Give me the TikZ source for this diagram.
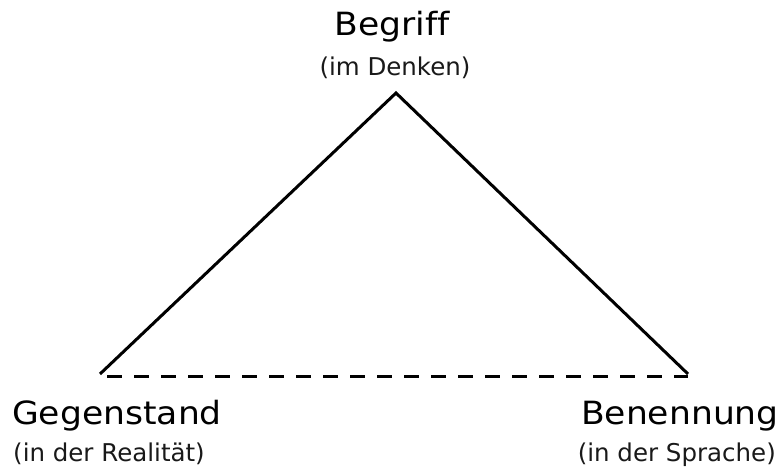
\documentclass[tikz,border=0pt]{standalone}
\usepackage{fontspec}
\setmainfont[FakeStretch=1.08,Ligatures=CommonOff]{DejaVu Sans}
\newfontfamily\smallfam[Ligatures=CommonOff]{DejaVu Sans}
\begin{document}
\begin{tikzpicture}[x=1pt,y=1pt,
  big/.style={inner sep=0pt,font=\fontsize{32}{36}\selectfont,text=black},
  small/.style={inner sep=0pt,font=\smallfam\fontsize{24.5}{29}\selectfont,text=black!90},
  edge/.style={line width=3pt,line join=miter},
  dashline/.style={line width=3pt,dash pattern=on 15pt off 12pt}]
\useasboundingbox (0,0) rectangle (781,466);
\coordinate (apex) at (396,373);
\coordinate (L) at (100,92);
\coordinate (R) at (688,92);
\coordinate (Ld) at (107,90);
\coordinate (Rd) at (688,90);
\draw[edge] (L) -- (apex) -- (R);
\draw[dashline] (Ld) -- (Rd);
\node[big,anchor=base] (begriff) at (392,430) {Begriff};
\node[small,anchor=base] (denken) at (395,390) {(im Denken)};
\node[big,anchor=base west] (gegenstand) at (12,42) {Gegenstand};
\node[small,anchor=base west] (realitaet) at (13,5) {(in der Realität)};
\node[big,anchor=base east] (benennung) at (779,42) {Benennung};
\node[small,anchor=base east] (sprache) at (776,5) {(in der Sprache)};
\end{tikzpicture}
\end{document}
